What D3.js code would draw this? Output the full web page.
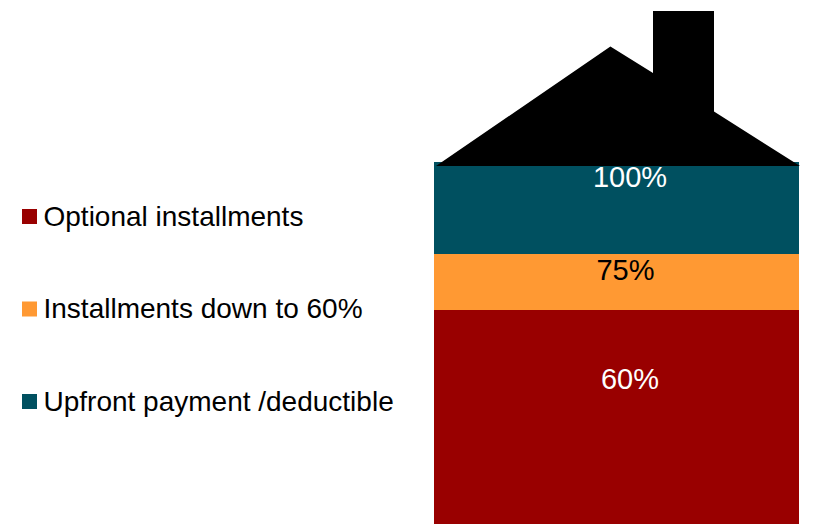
<!DOCTYPE html>
<html>
<head>
<meta charset="utf-8">
<style>
  html, body { margin: 0; padding: 0; background: #fff; }
  svg { display: block; }
  text { font-family: "Liberation Sans", Arial, sans-serif; }
</style>
<script src="https://cdn.jsdelivr.net/npm/d3@7"></script>
</head>
<body>
<svg id="chart" width="821" height="524"></svg>
<script>
// Stacked from the bottom up: each band's share of the purchase price.
const seriesNames = ["Optional installments", "Installments down to 60%", "Upfront payment /deductible"];
const seriesValues = [60, 15, 25];
const seriesColors = ["#990000", "#ff9933", "#005060"];
const cumulativeLabels = ["60%", "75%", "100%"];
const labelColors = ["#ffffff", "#000000", "#ffffff"];

const svg = d3.select("#chart");

const row = Object.fromEntries(seriesNames.map((n, i) => [n, seriesValues[i]]));
const layers = d3.stack().keys(seriesNames)([row]);

const x = d3.scaleLinear().domain([0, 1]).range([434, 799]);
const y = d3.scaleLinear().domain([0, 100]).range([531.6, 162]);

// The column forming the body of the house; its foot runs past the page edge.
svg.append("g").attr("shape-rendering", "crispEdges").selectAll("rect")
  .data(layers)
  .join("rect")
  .attr("x", x(0))
  .attr("width", x(1) - x(0))
  .attr("y", d => y(d[0][1]))
  .attr("height", d => y(d[0][0]) - y(d[0][1]))
  .attr("fill", (d, i) => seriesColors[i]);

// Roof and chimney sitting on top of the column.
const roofLine = d3.line();
svg.append("path")
  .attr("d", roofLine([[436, 166], [610.4, 46.6], [653, 73], [653, 11], [714, 11], [714, 111.6], [800, 166]]) + "Z")
  .attr("fill", "#000000");

// Cumulative percentage written inside each band, set back from the band's top edge.
const labelDrop = [79, 25.5, 25];
const labelCentre = [630, 625.5, 630];
svg.append("g").selectAll("text")
  .data(layers)
  .join("text")
  .attr("x", (d, i) => labelCentre[i])
  .attr("y", (d, i) => y(d[0][1]) + labelDrop[i])
  .attr("text-anchor", "middle")
  .attr("font-size", 29)
  .attr("fill", (d, i) => labelColors[i])
  .text((d, i) => cumulativeLabels[i]);

// Legend on the left.
const legendY = d3.scalePoint().domain(seriesNames).range([216.5, 401.5]);
const legend = svg.append("g").selectAll("g")
  .data(seriesNames)
  .join("g")
  .attr("transform", d => `translate(0,${legendY(d)})`);
legend.append("rect")
  .attr("x", 22).attr("y", -7.5)
  .attr("width", 15).attr("height", 15)
  .attr("fill", (d, i) => seriesColors[i]);
legend.append("text")
  .attr("x", 43.5).attr("y", 9)
  .attr("font-size", 28)
  .attr("fill", "#000000")
  .text(d => d);
</script>
</body>
</html>
